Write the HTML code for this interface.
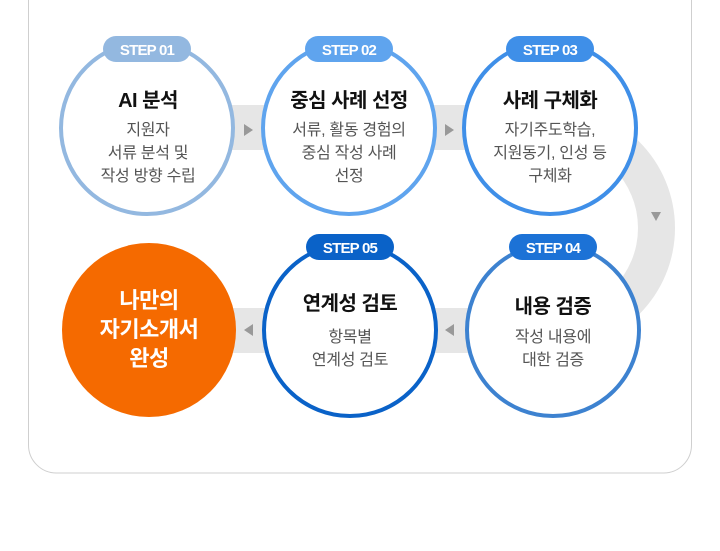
<!DOCTYPE html>
<html><head><meta charset="utf-8"><style>
html,body{margin:0;padding:0;background:#fff;width:720px;height:551px;overflow:hidden}
svg{display:block}
text{font-family:"Liberation Sans","Noto Sans CJK KR",sans-serif;text-anchor:middle}
.t{font-size:20px;font-weight:700;fill:#111;letter-spacing:-0.5px}
.b{font-size:16px;fill:#555;letter-spacing:-0.3px}
.s{font-size:15px;font-weight:700;fill:#fff;letter-spacing:-0.8px}
.o{font-size:22px;font-weight:700;fill:#fff;letter-spacing:-0.5px}
</style></head><body>
<svg width="720" height="551" viewBox="0 0 720 551">
<rect x="28.5" y="-40" width="663" height="513" rx="28" fill="#fff" stroke="#cfcfcf"/>
<rect x="220" y="105" width="60" height="45" fill="#e6e6e6"/>
<rect x="420" y="105" width="60" height="45" fill="#e6e6e6"/>
<rect x="220" y="308" width="60" height="45" fill="#e6e6e6"/>
<rect x="420" y="308" width="60" height="45" fill="#e6e6e6"/>
<path d="M553 106 A122 122 0 0 1 553 350 L553 313 A85 85 0 0 0 553 143 Z" fill="#e6e6e6"/>
<polygon points="244,124 244,136 253,130" fill="#999"/>
<polygon points="445,124 445,136 454,130" fill="#999"/>
<polygon points="651,212 661,212 656,221" fill="#999"/>
<polygon points="454,324 454,336 445,330" fill="#999"/>
<polygon points="253,324 253,336 244,330" fill="#999"/>
<circle cx="147" cy="128" r="86" fill="#fff" stroke="#93b8e0" stroke-width="4"/>
<circle cx="349" cy="128" r="86" fill="#fff" stroke="#5fa4ee" stroke-width="4"/>
<circle cx="550" cy="128" r="86" fill="#fff" stroke="#3f8fe8" stroke-width="4"/>
<circle cx="553" cy="330" r="86" fill="#fff" stroke="#3d82d0" stroke-width="4"/>
<circle cx="350" cy="330" r="86" fill="#fff" stroke="#0a62c8" stroke-width="4"/>
<circle cx="149" cy="330" r="87" fill="#f56a00"/>
<rect x="103" y="36" width="88" height="26" rx="13" fill="#93b8e0"/>
<text class="s" x="147" y="55">STEP 01</text>
<rect x="305" y="36" width="88" height="26" rx="13" fill="#5fa4ee"/>
<text class="s" x="349" y="55">STEP 02</text>
<rect x="506" y="36" width="88" height="26" rx="13" fill="#3f8fe8"/>
<text class="s" x="550" y="55">STEP 03</text>
<rect x="509" y="234" width="88" height="26" rx="13" fill="#1c72d6"/>
<text class="s" x="553" y="253">STEP 04</text>
<rect x="306" y="234" width="88" height="26" rx="13" fill="#0a62c8"/>
<text class="s" x="350" y="253">STEP 05</text>
<text class="t" x="148" y="107">AI 분석</text>
<text class="b" x="148" y="135">지원자</text>
<text class="b" x="148" y="158">서류 분석 및</text>
<text class="b" x="148" y="181">작성 방향 수립</text>
<text class="t" x="349" y="107">중심 사례 선정</text>
<text class="b" x="349" y="135">서류, 활동 경험의</text>
<text class="b" x="349" y="158">중심 작성 사례</text>
<text class="b" x="349" y="181">선정</text>
<text class="t" x="550" y="107">사례 구체화</text>
<text class="b" x="550" y="135">자기주도학습,</text>
<text class="b" x="550" y="158">지원동기, 인성 등</text>
<text class="b" x="550" y="181">구체화</text>
<text class="t" x="553" y="313">내용 검증</text>
<text class="b" x="553" y="342">작성 내용에</text>
<text class="b" x="553" y="365">대한 검증</text>
<text class="t" x="350" y="310">연계성 검토</text>
<text class="b" x="350" y="342">항목별</text>
<text class="b" x="350" y="365">연계성 검토</text>
<text class="o" x="149" y="308">나만의</text>
<text class="o" x="149" y="337">자기소개서</text>
<text class="o" x="149" y="366">완성</text>
</svg>
</body></html>
